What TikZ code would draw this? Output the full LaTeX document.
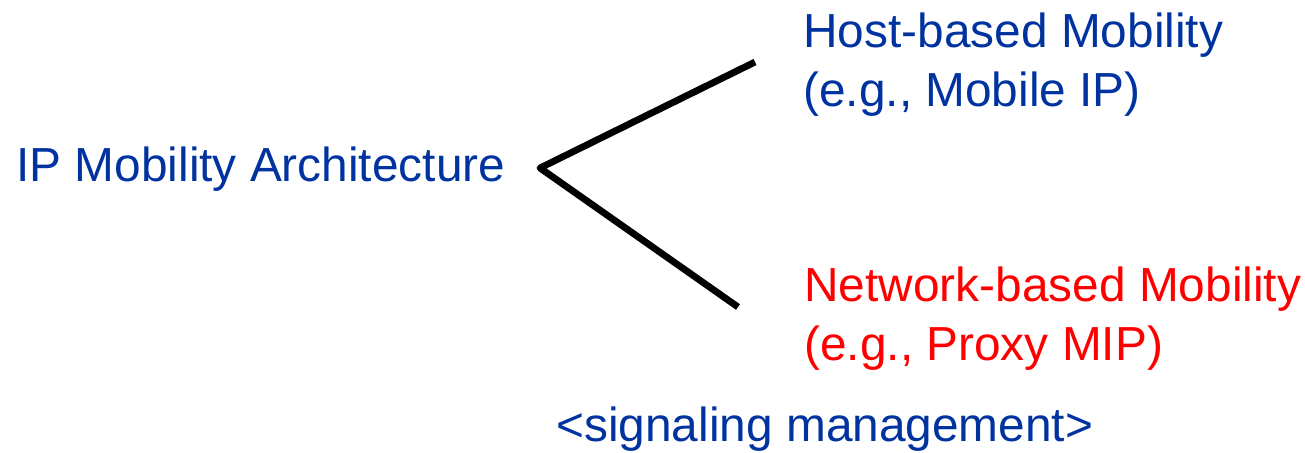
\documentclass[tikz,border=0pt]{standalone}
\usepackage{fontspec}
\setmainfont{Liberation Sans}
\definecolor{hdrblue}{RGB}{0,51,160}
\definecolor{netred}{RGB}{255,0,0}
\begin{document}
\begin{tikzpicture}[x=0.5pt,y=-0.5pt,
  label/.style={anchor=base west,inner sep=0pt,align=left,
    font=\fontsize{23.9pt}{29.5pt}\selectfont},
  branch/.style={line width=3.4pt,line cap=butt,line join=round}]
\useasboundingbox (0,0) rectangle (1305,452);

% two-line labels are placed by the baseline of their last line
\node[label,text=hdrblue] (arch) at (16,181) {IP Mobility Architecture};
\node[label,text=hdrblue] (host) at (803,106.5) {Host-based Mobility\\(e.g., Mobile IP)};
\node[label,text=netred] (net) at (804,360.5) {Network-based Mobility\\(e.g., Proxy MIP)};
\node[label,text=hdrblue] (sig) at (556,441) {<signaling management>};

\coordinate (apex) at (540,168);
\coordinate (upend) at (755,62);
\coordinate (lowend) at (738,307);
\draw[branch] (upend) -- (apex) -- (lowend);
\end{tikzpicture}
\end{document}
